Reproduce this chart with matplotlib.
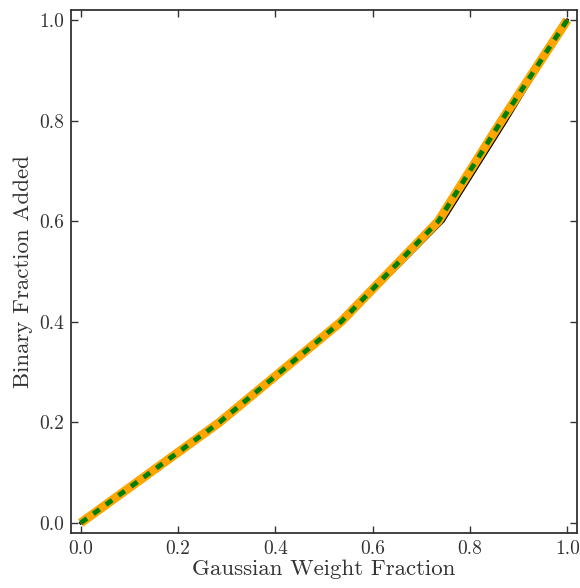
import matplotlib
matplotlib.use("Agg")
import matplotlib.pyplot as plt

plt.rcParams["font.family"] = "serif"
plt.rcParams["font.serif"] = ["cmr10", "DejaVu Serif"]
plt.rcParams["axes.formatter.use_mathtext"] = True
plt.rcParams["mathtext.fontset"] = "cm"

# binary fraction added vs gaussian weight fraction
y_levels = [0.0, 0.2, 0.4, 0.6, 0.8, 1.0]
x_black = [0.0, 0.29, 0.54, 0.745, 0.875, 1.0]
x_red = [0.0, 0.29, 0.54, 0.74, 0.872, 1.0]
x_fit = [0.0, 0.285, 0.535, 0.735, 0.865, 1.0]

fig = plt.figure(figsize=(5.8, 5.88), dpi=100)
ax = fig.add_axes([0.1224, 0.0935, 0.8724, 0.8895])

ax.plot(x_black, y_levels, color="black", lw=2.2)
ax.plot(x_red, y_levels, color="red", lw=1.0)
ax.plot(x_fit, y_levels, color="orange", lw=6.5, solid_capstyle="butt")
ax.plot(x_fit, y_levels, color="green", lw=3.5, dashes=(1.6, 1.6))

ax.set_xlim(-0.02, 1.02)
ax.set_ylim(-0.02, 1.02)
ticks = [0.0, 0.2, 0.4, 0.6, 0.8, 1.0]
ax.set_xticks(ticks)
ax.set_yticks(ticks)
ax.set_xticklabels([f"{t:.1f}" for t in ticks])
ax.set_yticklabels([f"{t:.1f}" for t in ticks])
ax.tick_params(direction="in", top=True, right=True, length=5, width=1,
               labelsize=14, pad=5, colors="#333333", labelcolor="#333333")
for sp in ax.spines.values():
    sp.set_linewidth(1.3)
    sp.set_color("#333333")

ax.set_xlabel("Gaussian Weight Fraction", fontsize=16.5, color="#333333", labelpad=1)
ax.set_ylabel("Binary Fraction Added", fontsize=16.5, color="#333333", labelpad=4)

fig.savefig("out.png", dpi=100)
